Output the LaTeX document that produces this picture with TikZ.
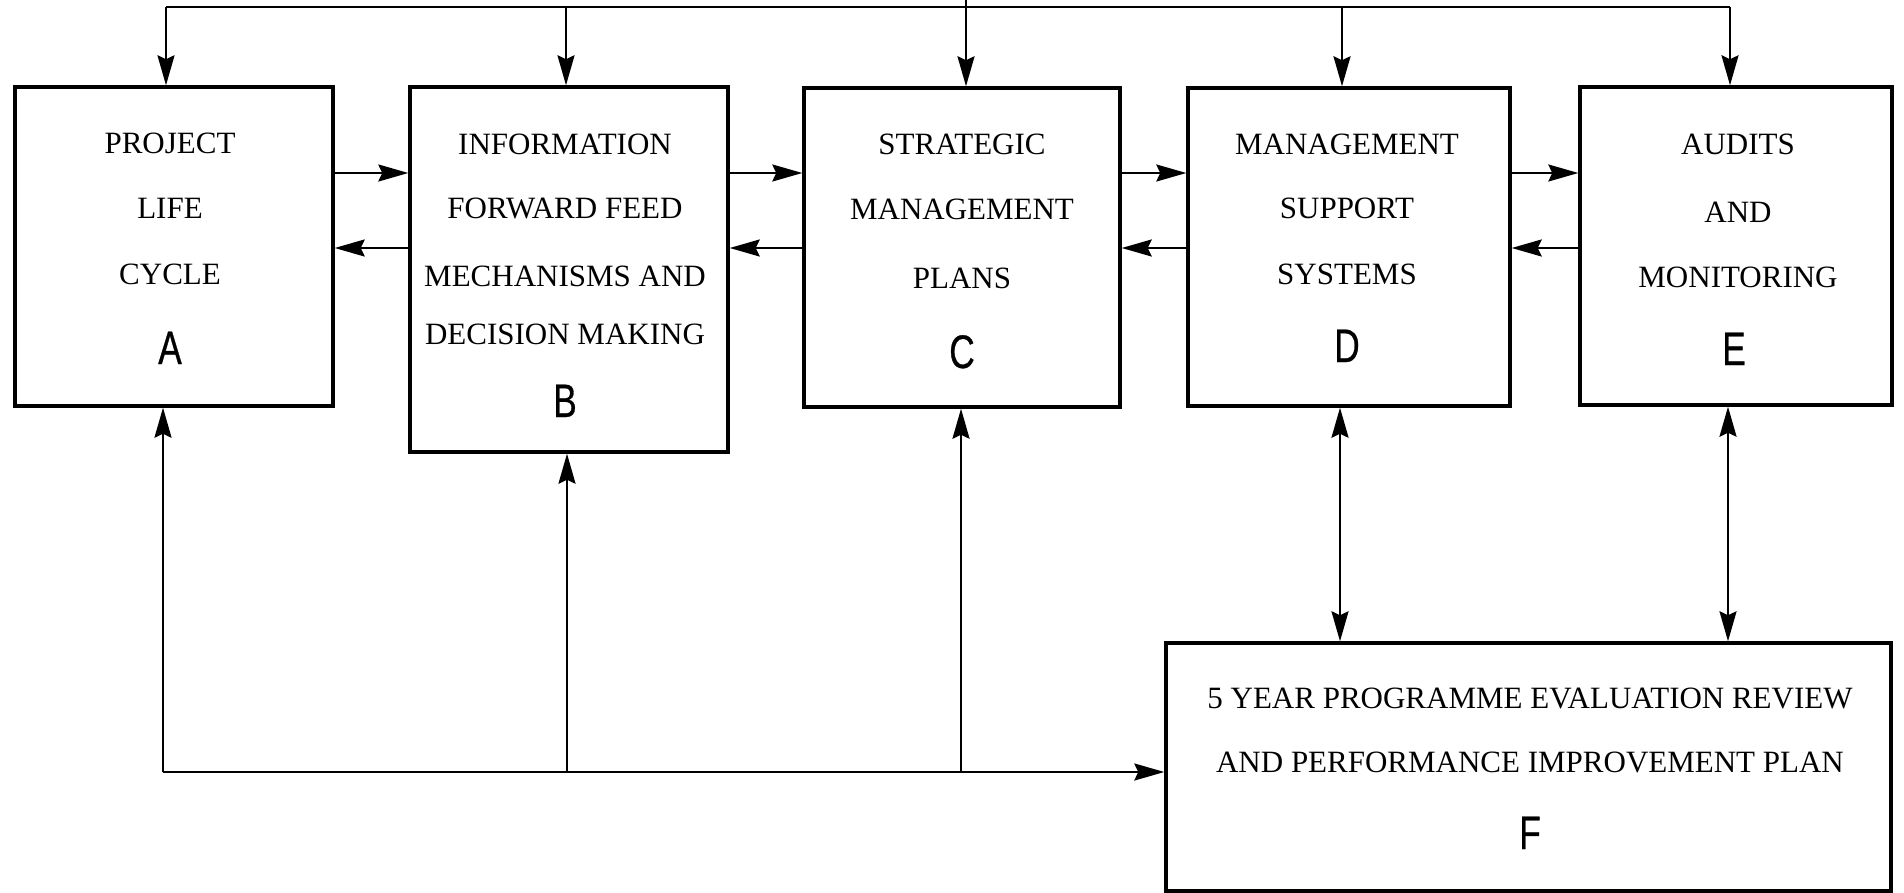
\documentclass[tikz,border=0pt]{standalone}
\usepackage{fontspec}
\setmainfont{Liberation Serif}
\newfontfamily\tagfont[FakeStretch=0.75,FakeBold=0.6]{Liberation Sans}
\usetikzlibrary{arrows.meta,fit}

\tikzset{
  blockbox/.style={draw, line width=1.7pt, inner sep=0pt},
  caption/.style={font=\fontsize{15.5}{18}\selectfont, anchor=base, inner sep=0pt},
  tag/.style={font=\tagfont\fontsize{23.5}{26}\selectfont, anchor=base, inner sep=0pt},
  wire/.style={line width=1.2pt},
  link/.style={line width=1.2pt, -{Stealth[length=15pt,width=8.5pt,inset=2pt]}},
  duplex/.style={line width=1.2pt, {Stealth[length=15pt,width=8.5pt,inset=2pt]}-{Stealth[length=15pt,width=8.5pt,inset=2pt]}}
}

\begin{document}
\begin{tikzpicture}[x=0.5pt,y=-0.5pt]
\useasboundingbox (0,0) rectangle (1904,893);

% the six blocks
\node[blockbox, fit={(15,87) (333,406)}]   (A) {};
\node[blockbox, fit={(410,87) (728,452)}]  (B) {};
\node[blockbox, fit={(804,88) (1120,407)}] (C) {};
\node[blockbox, fit={(1188,88) (1510,406)}] (D) {};
\node[blockbox, fit={(1580,87) (1892,405)}] (E) {};
\node[blockbox, fit={(1166,643) (1891,891)}] (F) {};

% block texts
\node[caption] (A1) at (170,154) {PROJECT};
\node[caption] (A2) at (170,219) {LIFE};
\node[caption] (A3) at (170,285) {CYCLE};
\node[tag]     (A4) at (170,364) {A};

\node[caption] (B1) at (565,155) {INFORMATION};
\node[caption] (B2) at (565,219) {FORWARD FEED};
\node[caption] (B3) at (565,286) {MECHANISMS AND};
\node[caption] (B4) at (565,344) {DECISION MAKING};
\node[tag]     (B5) at (565,417) {B};

\node[caption] (C1) at (962,155) {STRATEGIC};
\node[caption] (C2) at (962,220) {MANAGEMENT};
\node[caption] (C3) at (962,288) {PLANS};
\node[tag]     (C4) at (962,368) {C};

\node[caption] (D1) at (1347,155) {MANAGEMENT};
\node[caption] (D2) at (1347,219) {SUPPORT};
\node[caption] (D3) at (1347,285) {SYSTEMS};
\node[tag]     (D4) at (1347,362) {D};

\node[caption] (E1) at (1738,155) {AUDITS};
\node[caption] (E2) at (1738,222) {AND};
\node[caption] (E3) at (1738,287) {MONITORING};
\node[tag]     (E4) at (1734,365) {E};

\node[caption] (F1) at (1530,708) {5 YEAR PROGRAMME EVALUATION REVIEW};
\node[caption] (F2) at (1530,772) {AND PERFORMANCE IMPROVEMENT PLAN};
\node[tag]     (F3) at (1530,849) {F};

% distribution bus along the top
\coordinate (tA) at (166,7);
\coordinate (tB) at (566,7);
\coordinate (tC) at (966,0);
\coordinate (tD) at (1342,7);
\coordinate (tE) at (1730,7);
\draw[wire] (tA) -- (tE);
\draw[link] (tA) -- (tA |- A.north);
\draw[link] (tB) -- (tB |- B.north);
\draw[link] (tC) -- (tC |- C.north);
\draw[link] (tD) -- (tD |- D.north);
\draw[link] (tE) -- (tE |- E.north);

% forward and backward links between neighbours
\coordinate (fw) at (0,173);
\coordinate (bw) at (0,248);
\draw[link] (A.east |- fw) -- (B.west |- fw);
\draw[link] (B.east |- fw) -- (C.west |- fw);
\draw[link] (C.east |- fw) -- (D.west |- fw);
\draw[link] (D.east |- fw) -- (E.west |- fw);
\draw[link] (B.west |- bw) -- (A.east |- bw);
\draw[link] (C.west |- bw) -- (B.east |- bw);
\draw[link] (D.west |- bw) -- (C.east |- bw);
\draw[link] (E.west |- bw) -- (D.east |- bw);

% feedback bus along the bottom
\coordinate (bA) at (163,772);
\coordinate (bB) at (567,772);
\coordinate (bC) at (961,772);
\draw[link] (bA) -- (bA -| F.west);
\draw[link] (bA) -- (bA |- A.south);
\draw[link] (bB) -- (bB |- B.south);
\draw[link] (bC) -- (bC |- C.south);

% two-way links with the review block
\coordinate (xD) at (1340,0);
\coordinate (xE) at (1728,0);
\draw[duplex] (xD |- D.south) -- (xD |- F.north);
\draw[duplex] (xE |- E.south) -- (xE |- F.north);
\end{tikzpicture}
\end{document}
